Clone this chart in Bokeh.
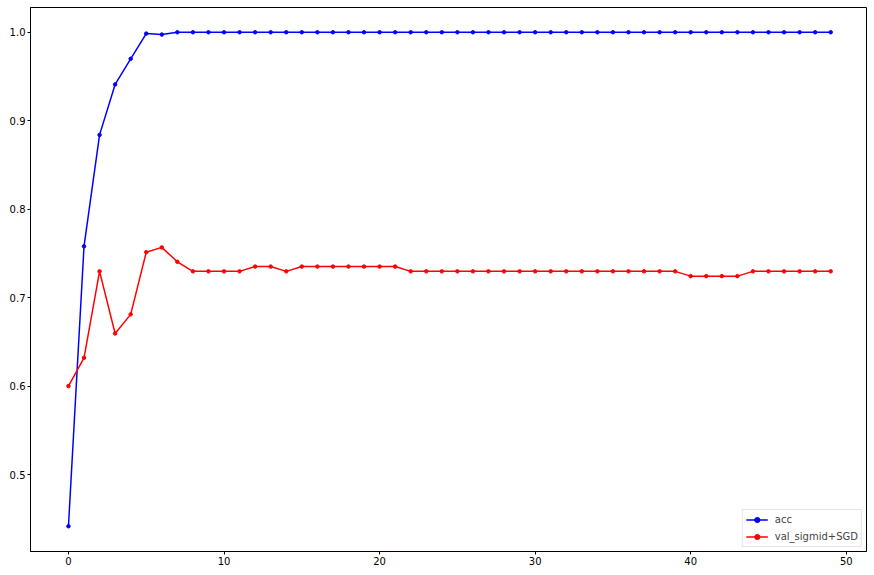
from bokeh.plotting import figure
from bokeh.models import FixedTicker, PrintfTickFormatter, Range1d
from bokeh.embed import file_html
from bokeh.resources import INLINE

epochs = list(range(50))
acc = [0.4415, 0.758, 0.884, 0.941, 0.970, 0.9985, 0.9974] + [1.0] * 43
val_sigmid_sgd = [0.600, 0.632, 0.7297, 0.6595, 0.6811, 0.7514, 0.7568, 0.7405,
                  0.7297, 0.7297, 0.7297, 0.7297, 0.7351, 0.7351, 0.7297,
                  0.7351, 0.7351, 0.7351, 0.7351, 0.7351, 0.7351, 0.7351] + \
                 [0.7297] * 18 + [0.7243] * 4 + [0.7297] * 6
x_ticks = [0, 10, 20, 30, 40, 50]
y_ticks = [0.5, 0.6, 0.7, 0.8, 0.9, 1.0]

p = figure(width=872, height=573, output_backend="svg", toolbar_location=None,
           x_range=Range1d(-2.44, 51.3), y_range=Range1d(0.413, 1.028),
           min_border_left=30, min_border_right=6, min_border_top=7, min_border_bottom=22)

p.line(epochs, acc, line_color="blue", line_width=1.5, legend_label="acc")
p.scatter(epochs, acc, marker="circle", size=3.5, fill_color="blue", line_color="blue", legend_label="acc")
p.line(epochs, val_sigmid_sgd, line_color="red", line_width=1.5, legend_label="val_sigmid+SGD")
p.scatter(epochs, val_sigmid_sgd, marker="circle", size=3.5, fill_color="red", line_color="red",
          legend_label="val_sigmid+SGD")

p.xgrid.visible = False
p.ygrid.visible = False
p.outline_line_color = "black"
p.outline_line_alpha = 1
p.outline_line_width = 1

p.xaxis.ticker = FixedTicker(ticks=x_ticks)
p.yaxis.ticker = FixedTicker(ticks=y_ticks)
p.yaxis.formatter = PrintfTickFormatter(format="%.1f")
p.xaxis.formatter = PrintfTickFormatter(format="%d")
for ax in (p.xaxis, p.yaxis):
    ax.axis_line_color = "black"
    ax.major_tick_line_color = "black"
    ax.major_tick_out = 3
    ax.major_tick_in = 0
    ax.minor_tick_line_color = None
    ax.major_label_text_font = "DejaVu Sans"
    ax.major_label_text_font_size = "10px"
    ax.major_label_text_color = "black"
    ax.major_label_standoff = 2

p.legend.location = "bottom_right"
p.legend.margin = 4
p.legend.padding = 3
p.legend.spacing = 4
p.legend.glyph_width = 22
p.legend.glyph_height = 13
p.legend.label_height = 13
p.legend.label_standoff = 7
p.legend.label_text_font = "DejaVu Sans"
p.legend.label_text_font_size = "10px"
p.legend.border_line_color = "#cccccc"
p.legend.border_line_width = 1
p.legend.background_fill_alpha = 0.8

open("out.html", "w").write(file_html(p, INLINE))
